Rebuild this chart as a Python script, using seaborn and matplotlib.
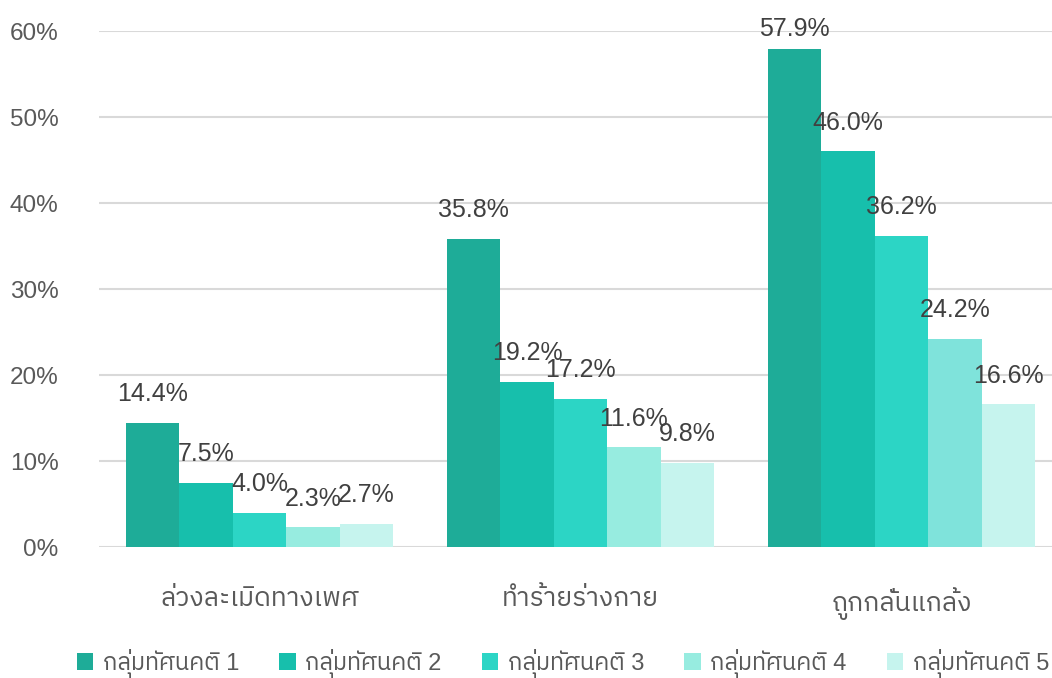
import matplotlib
matplotlib.use("Agg")
import matplotlib.pyplot as plt
import matplotlib.font_manager as fm
from matplotlib.ft2font import FT2Font
from matplotlib.patches import Patch
import seaborn as sns
import pandas as pd

categories = ["ล่วงละเมิดทางเพศ", "ทำร้ายร่างกาย", "ถูกกลั่นแกล้ง"]
groups = ["กลุ่มทัศนคติ 1", "กลุ่มทัศนคติ 2", "กลุ่มทัศนคติ 3", "กลุ่มทัศนคติ 4", "กลุ่มทัศนคติ 5"]
group1 = [14.4, 35.8, 57.9]
group2 = [7.5, 19.2, 46.0]
group3 = [4.0, 17.2, 36.2]
group4 = [2.3, 11.6, 24.2]
group5 = [2.7, 9.8, 16.6]
colors = ["#1EAC98", "#17BFAC", "#2CD5C5", "#97ECE0", "#C6F4EE"]
yticks = [0, 10, 20, 30, 40, 50, 60]

# find a font with Thai glyphs
thai_font = None
preferred = []
for f in fm.fontManager.ttflist:
    try:
        cm = FT2Font(f.fname).get_charmap()
    except Exception:
        continue
    if 0x0E01 in cm and 0x0E34 in cm:
        preferred.append(f.name)
if preferred:
    thai_font = sorted(set(preferred), key=lambda n: (("Sans" not in n), n))[0]

sns.set_theme(style="white")
fam = ["Liberation Sans"] + ([thai_font] if thai_font else []) + ["DejaVu Sans"]
plt.rcParams["font.family"] = fam

series = [group1, group2, group3, group4, group5]
rows = []
for g, vals in zip(groups, series):
    for c, v in zip(categories, vals):
        rows.append({"cat": c, "group": g, "val": v})
df = pd.DataFrame(rows)

W, H = 1052, 678
fig = plt.figure(figsize=(W / 100, H / 100), dpi=100)
ax = fig.add_axes([99 / W, 1 - 547 / H, (1052 - 99) / W, (547 - 31) / H])

sns.barplot(data=df, x="cat", y="val", hue="group", order=categories,
            hue_order=groups, palette=colors, width=0.832, ax=ax,
            legend=False, saturation=1, errorbar=None, linewidth=0)

# distinct shade for group 4 in the last category
ax.containers[3][2].set_facecolor("#7FE3DB")

all_texts = []
for cont, vals in zip(ax.containers, series):
    texts = ax.bar_label(cont, labels=[f"{v:.1f}%" for v in vals], padding=12,
                         fontsize=18, color="#404040", clip_on=False,
                         family=["Liberation Sans"])
    all_texts.append(texts)
# the tallest label sits a little closer to its bar near the top edge
all_texts[0][2].xyann = (0, 6)

ax.set_xlim(-0.5, 2.5 - 10 / 321)
ax.set_ylim(0, 60)
ax.set_yticks(yticks)
ax.set_yticklabels([f"{t}%" for t in yticks], fontsize=17.5, color="#595959",
                   family=["Liberation Sans"])
ax.yaxis.grid(True, color="#D9D9D9", linewidth=1.5)
ax.set_axisbelow(True)
for s in ax.spines.values():
    s.set_visible(False)
ax.tick_params(axis="y", length=0, pad=29)
ax.tick_params(axis="x", length=0, pad=29)
for lbl in ax.get_xticklabels():
    lbl.set_fontsize(19)
    lbl.set_color("#595959")
ax.set_xlabel("")
ax.set_ylabel("")

handles = [Patch(facecolor=c, edgecolor="none") for c in colors]
fig.legend(handles, groups, loc="center", ncol=5, frameon=False,
           bbox_to_anchor=(0.535, 1 - 663 / H), fontsize=17,
           labelcolor="#595959", handlelength=0.7, handleheight=0.7,
           handletextpad=0.4, columnspacing=1.7)

fig.savefig("out.png", dpi=100)
